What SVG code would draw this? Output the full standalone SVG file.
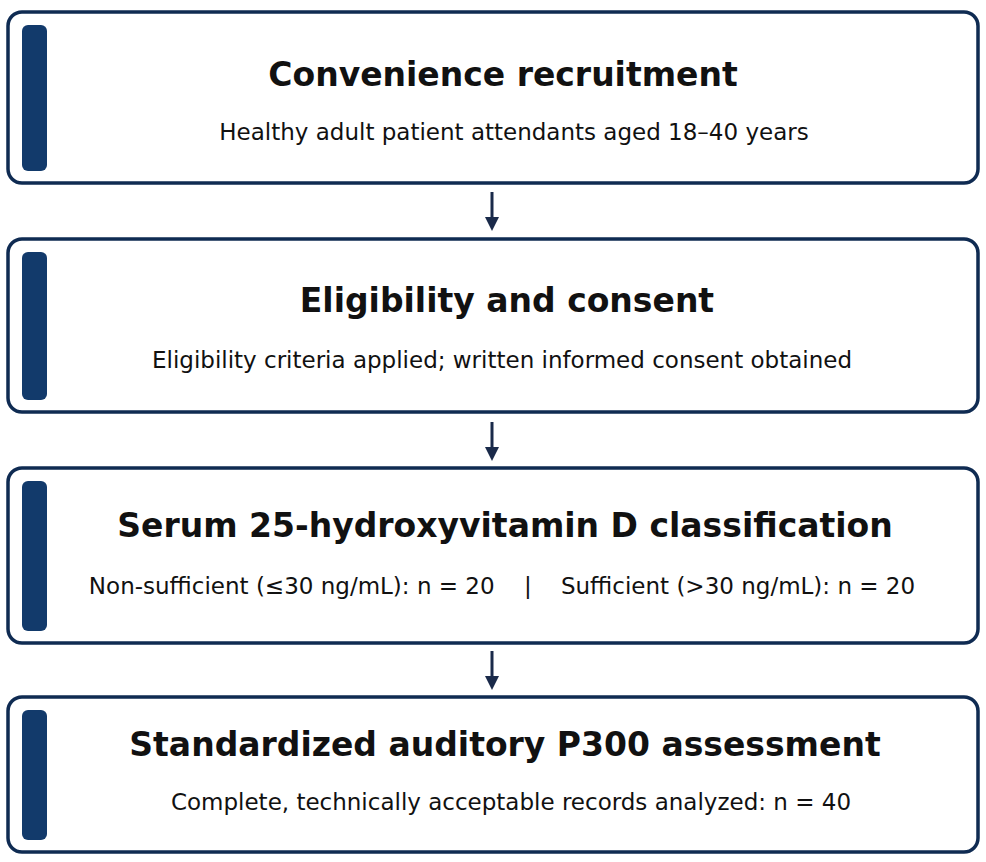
<svg xmlns="http://www.w3.org/2000/svg" width="986" height="862" viewBox="0 0 986 862">
<style>
.box{fill:#fff;stroke:#0f2b52;stroke-width:3.5}
.bar{fill:#123a6b}
.t{font-family:"DejaVu Sans",sans-serif;font-weight:bold;font-size:33px;fill:#111;text-anchor:middle}
.s{font-family:"DejaVu Sans",sans-serif;font-size:23px;fill:#111;text-anchor:middle}
.c{stroke:#1a2a4a;stroke-width:3;fill:none}
</style>
<defs><marker id="ah" markerWidth="14" markerHeight="14" refX="7" refY="7" orient="auto" markerUnits="userSpaceOnUse"><path d="M0,0 L14,7 L0,14 z" fill="#1a2a4a"/></marker></defs>
<rect width="986" height="862" fill="#fff"/>
<g id="n1"><rect class="box" x="8" y="12" width="970" height="171" rx="14"/><rect class="bar" x="22" y="25" width="25" height="146" rx="6"/><text class="t" x="503" y="86">Convenience recruitment</text><text class="s" x="514" y="140">Healthy adult patient attendants aged 18–40 years</text></g>
<g id="n2"><rect class="box" x="8" y="239" width="970" height="173" rx="14"/><rect class="bar" x="22" y="252" width="25" height="148" rx="6"/><text class="t" x="507" y="312">Eligibility and consent</text><text class="s" x="502" y="368">Eligibility criteria applied; written informed consent obtained</text></g>
<g id="n3"><rect class="box" x="8" y="468" width="970" height="175" rx="14"/><rect class="bar" x="22" y="481" width="25" height="150" rx="6"/><text class="t" x="505" y="537">Serum 25-hydroxyvitamin D classification</text><text class="s" x="502" y="594" xml:space="preserve">Non-sufficient (≤30 ng/mL): n = 20    |    Sufficient (&gt;30 ng/mL): n = 20</text></g>
<g id="n4"><rect class="box" x="8" y="697" width="970" height="155" rx="14"/><rect class="bar" x="22" y="710" width="25" height="130" rx="6"/><text class="t" x="505" y="756">Standardized auditory P300 assessment</text><text class="s" x="511" y="810">Complete, technically acceptable records analyzed: n = 40</text></g>
<g id="connectors">
<line class="c" x1="492" y1="192" x2="492" y2="224" marker-end="url(#ah)"/>
<line class="c" x1="492" y1="422" x2="492" y2="454" marker-end="url(#ah)"/>
<line class="c" x1="492" y1="651" x2="492" y2="683" marker-end="url(#ah)"/>
</g>
</svg>
